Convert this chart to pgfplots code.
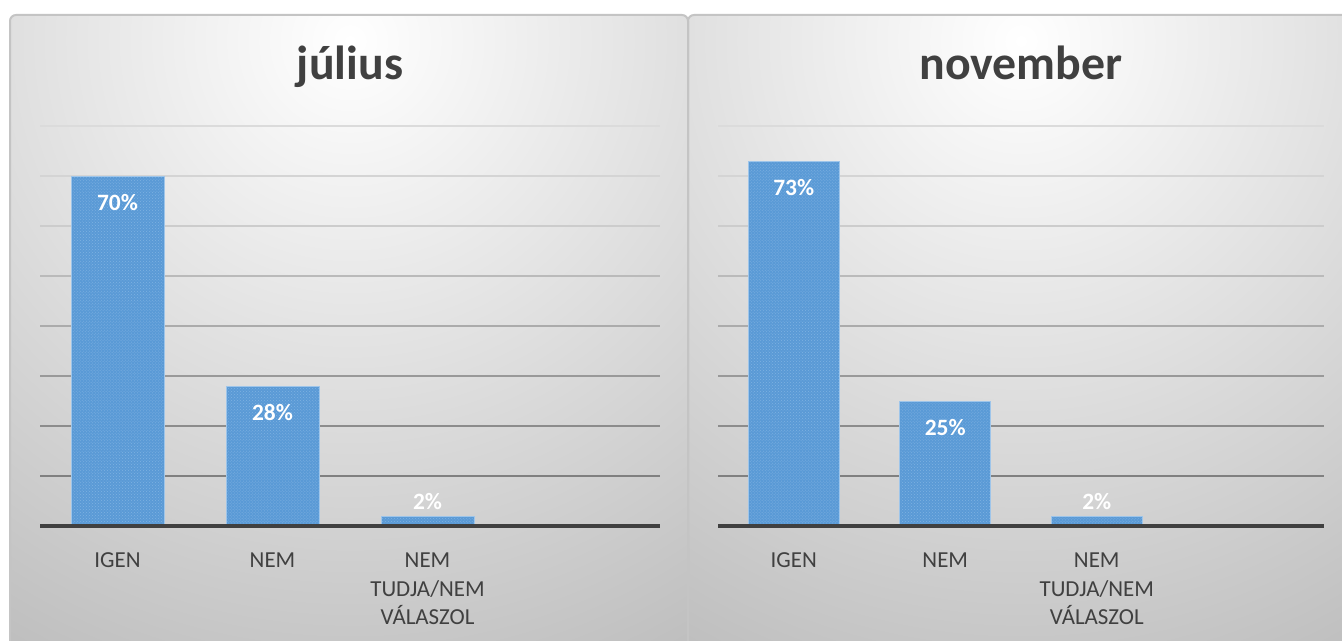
\documentclass[border=0pt]{standalone}
\usepackage{pgfplots}
\pgfplotsset{compat=1.18}
\usepackage{fontspec}
\setmainfont{Carlito}
\usetikzlibrary{patterns}

\definecolor{BarBlue}{HTML}{5A9AD6}
\definecolor{BarDots}{HTML}{7FB2E2}
\definecolor{BarEdge}{HTML}{9EC5EA}
\definecolor{TxtGray}{HTML}{404040}
\definecolor{PanelEdge}{HTML}{C4C4C4}

% answers, one table per survey wave (dy = label offset from bar top)
\pgfplotstableread{
x y dy
0 70 -35
1 28 -35
2 2 7
}\julius
\pgfplotstableread{
x y dy
0 73 -35
1 25 -35
2 2 7
}\november

\newcommand\gridlines{%
  \draw[black!14, line width=2bp] (axis cs:-0.5,80) -- (axis cs:3.5,80);
  \draw[black!17, line width=2bp] (axis cs:-0.5,70) -- (axis cs:3.5,70);
  \draw[black!20, line width=2bp] (axis cs:-0.5,60) -- (axis cs:3.5,60);
  \draw[black!27, line width=2bp] (axis cs:-0.5,50) -- (axis cs:3.5,50);
  \draw[black!33, line width=2bp] (axis cs:-0.5,40) -- (axis cs:3.5,40);
  \draw[black!40, line width=2bp] (axis cs:-0.5,30) -- (axis cs:3.5,30);
  \draw[black!45, line width=2bp] (axis cs:-0.5,20) -- (axis cs:3.5,20);
  \draw[black!50, line width=2bp] (axis cs:-0.5,10) -- (axis cs:3.5,10);
}
\newcommand\baseline{%
  \draw[TxtGray, line width=4bp] (axis cs:-0.5,0) -- (axis cs:3.5,0);
}

\pgfplotsset{
  panel/.style={
    ybar, scale only axis, height=400bp,
    ymin=0, ymax=80, xmin=-0.5, xmax=3.5,
    bar width=0.6, clip=false,
    axis line style={draw=none}, tick style={draw=none},
    ytick=\empty, xtick={0,1,2},
    xticklabels={IGEN,NEM,{NEM\\TUDJA/NEM\\VÁLASZOL}},
    xticklabel style={font=\fontsize{23}{29}\selectfont, text=TxtGray,
      align=center, anchor=north, inner sep=0pt, yshift=-22bp},
    title style={at={(0.5,1)}, anchor=base, yshift=41bp,
      font=\bfseries\fontsize{48}{58}\selectfont, text=TxtGray},
    /pgf/number format/assume math mode=true,
  },
  bars/.style={
    fill=BarBlue, draw=BarEdge, line width=0.8bp,
    postaction={pattern=crosshatch dots, pattern color=BarDots},
    visualization depends on={\thisrow{dy} \as \dy},
    nodes near coords={\pgfmathprintnumber[assume math mode=true]{\pgfplotspointmeta}\%},
    nodes near coords style={font=\bfseries\fontsize{23.5}{28}\selectfont,
      text=white, anchor=base, yshift=\dy pt},
  },
}

\begin{document}
\begin{tikzpicture}
\useasboundingbox (0,0) rectangle (1342bp,641bp);
\fill[white] (0,0) rectangle (1342bp,641bp);

% panel backgrounds
\begin{scope}
  \clip[rounded corners=6bp] (10bp,-20bp) rectangle (688bp,626bp);
  \shade[inner color=white, outer color=black!30] (350bp,600bp) circle (820bp);
\end{scope}
\begin{scope}
  \clip[rounded corners=6bp] (688bp,-20bp) rectangle (1360bp,626bp);
  \shade[inner color=white, outer color=black!30] (1021bp,600bp) circle (820bp);
\end{scope}
\draw[PanelEdge, line width=2bp, rounded corners=6bp] (10bp,-20bp) rectangle (688bp,626bp);
\draw[PanelEdge, line width=2bp, rounded corners=6bp] (688bp,-20bp) rectangle (1360bp,626bp);

\begin{axis}[panel, width=620bp, at={(40bp,115bp)}, anchor=south west, title={július}]
  \gridlines
  \addplot[bars] table[x=x, y=y] {\julius};
  \baseline
\end{axis}

\begin{axis}[panel, width=606bp, at={(718bp,115bp)}, anchor=south west, title={november}]
  \gridlines
  \addplot[bars] table[x=x, y=y] {\november};
  \baseline
\end{axis}
\end{tikzpicture}
\end{document}
